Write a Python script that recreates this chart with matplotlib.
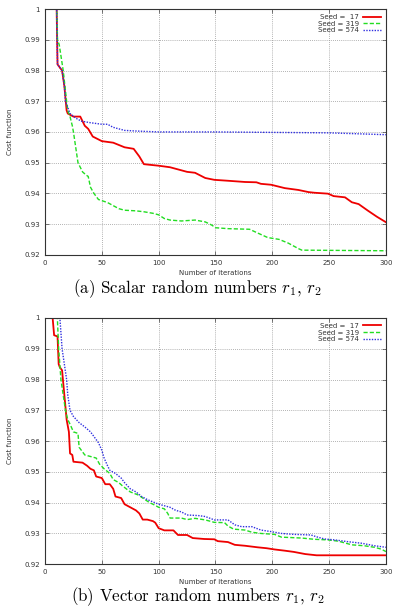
import numpy as np
import matplotlib.pyplot as plt

plt.rcParams['mathtext.fontset'] = 'cm'

# (a) scalar random numbers
a_x17 = [10, 11, 13, 15, 17, 19, 20, 25, 31, 35, 38, 42, 50, 60, 70, 78, 83, 87, 100, 110, 115,
         125, 132, 141, 149, 161, 176, 186, 190, 199, 211, 223, 232, 237, 249, 254, 264, 270, 276,
         284, 292, 300]
a_y17 = [1.005, 0.982, 0.981, 0.980, 0.975, 0.967, 0.966, 0.965, 0.965, 0.962, 0.961, 0.9585,
         0.957, 0.9565, 0.955, 0.9545, 0.952, 0.9495, 0.949, 0.9485, 0.948, 0.947, 0.9467,
         0.9450, 0.9444, 0.9441, 0.9437, 0.9436, 0.9431, 0.9428, 0.9417, 0.9411, 0.9404, 0.9402,
         0.9399, 0.9391, 0.9387, 0.9371, 0.9365, 0.9344, 0.9324, 0.9306]
a_x319 = [10, 11, 12.5, 16, 19, 20, 22, 24, 25, 27, 29, 33, 36, 38, 40, 43, 47, 55, 60, 65, 70,
          80, 87, 95, 100, 105, 110, 120, 132, 141, 147, 150, 161, 180, 187, 196, 206, 214, 223,
          226, 300]
a_y319 = [1.005, 0.990, 0.9884, 0.980, 0.970, 0.967, 0.965, 0.962, 0.960, 0.955, 0.950, 0.947,
          0.946, 0.9455, 0.942, 0.940, 0.938, 0.937, 0.936, 0.935, 0.9345, 0.9343, 0.934, 0.9335,
          0.933, 0.9318, 0.9313, 0.931, 0.9313, 0.9307, 0.9296, 0.9288, 0.9285, 0.9283, 0.9271,
          0.9256, 0.925, 0.9238, 0.922, 0.9215, 0.9213]
a_x574 = [10, 11, 13, 15, 17, 18, 20, 22, 27, 32, 40, 50, 55, 60, 70, 80, 100, 150, 250, 300]
a_y574 = [1.005, 0.982, 0.981, 0.980, 0.975, 0.970, 0.968, 0.966, 0.9645, 0.9635, 0.963, 0.9625,
          0.9625, 0.9615, 0.9605, 0.9603, 0.960, 0.960, 0.9597, 0.9591]

# (b) vector random numbers
b_x17 = [6, 8, 11, 12, 13, 15, 17, 19, 21, 22, 24, 25, 33, 37, 40, 43, 45, 50, 53, 57, 60, 62,
         67, 70, 75, 80, 83, 86, 90, 95, 97, 100, 105, 113, 117, 125, 130, 140, 149, 152, 161,
         167, 176, 187, 195, 202, 211, 219, 229, 239, 300]
b_y17 = [1.003, 0.9944, 0.994, 0.985, 0.984, 0.983, 0.975, 0.967, 0.963, 0.956, 0.9555, 0.9533,
         0.953, 0.952, 0.951, 0.9505, 0.9485, 0.948, 0.946, 0.946, 0.9445, 0.942, 0.9415,
         0.9395, 0.9385, 0.9375, 0.9365, 0.9345, 0.9345, 0.934, 0.9335, 0.9317, 0.931, 0.931,
         0.9295, 0.9295, 0.9285, 0.9282, 0.9281, 0.9275, 0.9272, 0.9263, 0.926, 0.9255, 0.9252,
         0.9248, 0.9244, 0.924, 0.9233, 0.9229, 0.9229]
b_x319 = [10.5, 12, 13, 14, 16, 18, 20, 22, 25, 29, 30, 35, 40, 45, 48, 52, 57, 60, 65, 68, 75,
          82, 88, 92, 95, 100, 105, 108, 110, 120, 125, 132, 141, 149, 158, 161, 166, 176, 182,
          190, 202, 208, 226, 237, 249, 258, 270, 281, 290, 296, 300]
b_y319 = [1.003, 0.990, 0.985, 0.980, 0.975, 0.970, 0.967, 0.9655, 0.963, 0.9625, 0.958, 0.9555,
          0.955, 0.9545, 0.9525, 0.951, 0.9495, 0.9475, 0.9465, 0.9455, 0.9435, 0.9425, 0.941,
          0.940, 0.9395, 0.9385, 0.938, 0.9365, 0.935, 0.935, 0.9345, 0.9349, 0.9344, 0.9336,
          0.9335, 0.9324, 0.9314, 0.9311, 0.9304, 0.930, 0.9297, 0.9288, 0.9285, 0.9281, 0.9279,
          0.9275, 0.9263, 0.926, 0.9255, 0.9249, 0.9241]
b_x574 = [12.5, 15, 19, 20, 22, 25, 30, 35, 40, 43, 47, 50, 52, 55, 57, 62, 67, 70, 75, 80, 85,
          90, 100, 105, 110, 115, 120, 125, 135, 141, 149, 161, 167, 173, 182, 190, 199, 208, 219,
          234, 240, 246, 255, 267, 279, 290, 300]
b_y574 = [1.003, 0.990, 0.980, 0.975, 0.970, 0.968, 0.966, 0.9646, 0.963, 0.9615, 0.9595, 0.957,
          0.9545, 0.952, 0.9505, 0.9495, 0.948, 0.9465, 0.9445, 0.9435, 0.942, 0.941, 0.9395,
          0.939, 0.9385, 0.9375, 0.937, 0.936, 0.9358, 0.9355, 0.9344, 0.9344, 0.9328, 0.9322,
          0.9322, 0.9311, 0.9306, 0.930, 0.9297, 0.9295, 0.9288, 0.9282, 0.9279, 0.9273, 0.9268,
          0.926, 0.9255]

x_ticks = [0, 50, 100, 150, 200, 250, 300]
y_ticks = [0.92, 0.93, 0.94, 0.95, 0.96, 0.97, 0.98, 0.99, 1.0]
y_labels = ['0.92', '0.93', '0.94', '0.95', '0.96', '0.97', '0.98', '0.99', '1']
captions = ['(a) Scalar random numbers $r_1$, $r_2$', '(b) Vector random numbers $r_1$, $r_2$']

fig = plt.figure(figsize=(3.95, 6.08), dpi=100)
ax_a = fig.add_axes([0.114, 0.581, 0.863, 0.404])
ax_b = fig.add_axes([0.114, 0.072, 0.863, 0.405])

panels = [
    (ax_a, [(a_x17, a_y17), (a_x319, a_y319), (a_x574, a_y574)], 0.5255),
    (ax_b, [(b_x17, b_y17), (b_x319, b_y319), (b_x574, b_y574)], 0.0185),
]
styles = [
    ('Seed =  17', '#ee0000', '-', 1.3),
    ('Seed = 319', '#22dd22', (0, (3, 1.5)), 1.0),
    ('Seed = 574', '#3030e0', (0, (1, 1)), 1.0),
]

for i, (ax, series, cap_y) in enumerate(panels):
    for (xs, ys), (lab, col, ls, lw) in zip(series, styles):
        ax.plot(xs, ys, color=col, linestyle=ls, linewidth=lw, label=lab)
    ax.set_xlim(0, 300)
    ax.set_ylim(0.92, 1.0)
    ax.set_xticks(x_ticks)
    ax.set_yticks(y_ticks)
    ax.set_yticklabels(y_labels)
    ax.tick_params(labelsize=5, direction='in', top=True, right=True, length=3, width=0.5,
                   colors='#444444', labelcolor='#333333')
    ax.grid(True, color='#999999', linestyle=(0, (1, 1.5)), linewidth=0.6)
    for s in ax.spines.values():
        s.set_linewidth(0.8)
        s.set_color('#333333')
    ax.set_xlabel('Number of iterations', fontsize=5, labelpad=3, color='#333333')
    ax.set_ylabel('Cost function', fontsize=5, labelpad=8, color='#333333')
    leg = ax.legend(loc='upper right', fontsize=5, frameon=False, markerfirst=False,
                    handlelength=2.6, handletextpad=0.6, labelspacing=0.1,
                    borderaxespad=0.3)
    for t in leg.get_texts():
        t.set_ha('right')
        t.set_color('#333333')
    fig.text(0.5, cap_y, captions[i], ha='center', va='center', fontsize=12.2,
             family='cmr10')

plt.savefig('out.png', dpi=100)
